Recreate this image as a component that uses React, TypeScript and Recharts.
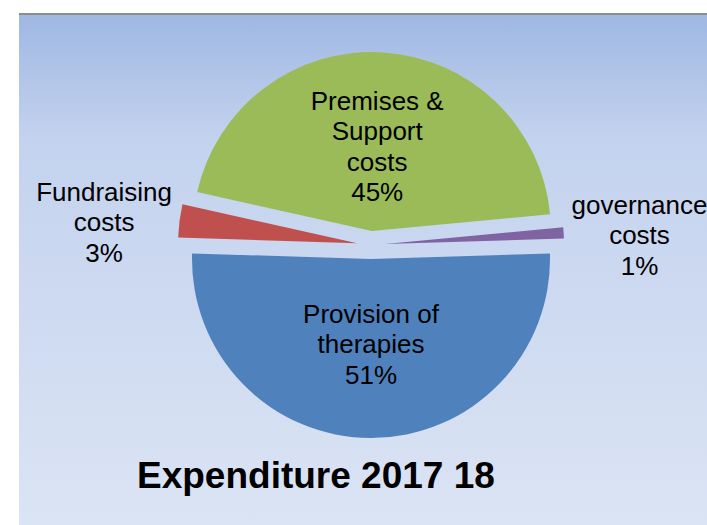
import React from "react";
import { PieChart, Pie, Cell } from "recharts";

// slice order starts with the bottom half, then runs counter-clockwise
const categories = [
  "Provision of\ntherapies",
  "governance\ncosts",
  "Premises &\nSupport\ncosts",
  "Fundraising\ncosts",
];
const shares = [51, 1, 45, 3];
const colors = ["#4f81bd", "#8064a2", "#9bbb59", "#c0504d"];
const title = "Expenditure 2017 18";

const W = 707;
const H = 525;
const CX = 371;
const CY = 245;
const R = 179;
const EXPLODE = 14;
const LINE_H = 30.5;
const FONT = "'Liberation Sans', Arial, sans-serif";
const RAD = Math.PI / 180;

const data = categories.map((name, i) => ({ name, value: shares[i] }));
const total = shares.reduce((a, b) => a + b, 0);
// centre the first slice on the bottom of the pie
const START = 270 - (shares[0] / total) * 180;

const midAngles = shares.map((v, i) => {
  const before = shares.slice(0, i).reduce((a, b) => a + b, 0);
  return START + ((before + v / 2) / total) * 360;
});

function renderLabel(props: any, i: number) {
  const mid = props.midAngle ?? midAngles[i];
  const cx = Number(props.cx);
  const cy = Number(props.cy);
  const inside = shares[i] / total > 0.1;
  const lines = [...categories[i].split("\n"), `${shares[i]}%`];
  let x: number;
  let y: number;
  if (inside) {
    x = cx + Math.cos(mid * RAD) * R * 0.475;
    y = cy - Math.sin(mid * RAD) * R * 0.475;
  } else {
    x = cx + Math.cos(mid * RAD) * 255;
    y = cy + 3 - Math.sin(mid * RAD) * 192;
  }
  const first = y - ((lines.length - 1) * LINE_H) / 2 + 9.3;
  return (
    <text
      key={`lbl-${i}`}
      x={x}
      y={first}
      textAnchor="middle"
      fontFamily={FONT}
      fontSize={26}
      fill="#000"
    >
      {lines.map((l, k) => (
        <tspan key={k} x={x} dy={k === 0 ? 0 : LINE_H}>
          {l}
        </tspan>
      ))}
    </text>
  );
}

export default function App() {
  return (
    <div style={{ position: "absolute", left: 0, top: 0, width: W, height: H, background: "#fff" }}>
      <div
        style={{
          position: "absolute",
          left: 19,
          top: 13,
          width: W - 19,
          height: H - 13,
          boxSizing: "border-box",
          borderTop: "2px solid #8c8c8c",
          background: "linear-gradient(to bottom, #9fb8e2 0%, #c3d2ee 24%, #dbe4f4 100%)",
        }}
      />
      <div style={{ position: "absolute", left: 0, top: 0 }}>
        <PieChart width={W} height={H} margin={{ top: 0, right: 0, bottom: 0, left: 0 }}>
          {data.map((_, i) => (
            <Pie
              key={i}
              data={data}
              dataKey="value"
              nameKey="name"
              cx={CX + EXPLODE * Math.cos(midAngles[i] * RAD)}
              cy={CY - EXPLODE * Math.sin(midAngles[i] * RAD)}
              innerRadius={0}
              outerRadius={R}
              startAngle={START}
              endAngle={START + 360}
              stroke="none"
              labelLine={false}
              label={(p: any) => (p.index === i ? renderLabel(p, i) : null)}
              isAnimationActive={false}
            >
              {data.map((__, j) => (
                <Cell key={j} fill={j === i ? colors[j] : "transparent"} stroke="none" />
              ))}
            </Pie>
          ))}
        </PieChart>
      </div>
      <svg width={W} height={H} style={{ position: "absolute", left: 0, top: 0, pointerEvents: "none" }}>
        <text x={137} y={488} fontFamily={FONT} fontSize={37} fontWeight="bold" fill="#000">
          {title}
        </text>
      </svg>
    </div>
  );
}
